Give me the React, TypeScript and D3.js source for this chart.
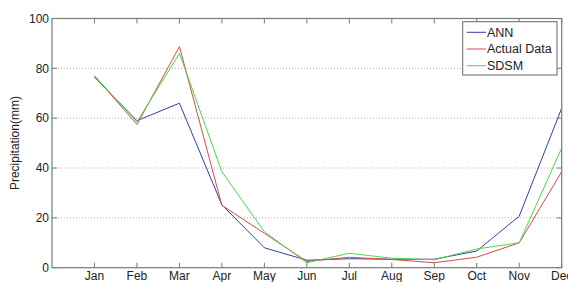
import React from "react";
import * as d3 from "d3";

const months = ["Jan", "Feb", "Mar", "Apr", "May", "Jun", "Jul", "Aug", "Sep", "Oct", "Nov", "Dec"];
const ann = [76.5, 59, 66, 25.2, 8, 3, 3.6, 3.4, 3.4, 6.7, 20.7, 64];
const actual = [77, 57.5, 88.7, 25, 13.8, 2.5, 4.2, 3.3, 2, 4.2, 10, 38.5];
const sdsm = [77, 58.5, 86, 38.5, 14.4, 2, 5.8, 3.8, 3.2, 7.5, 10, 48];
const yTicks = [0, 20, 40, 60, 80, 100];
const seriesNames = ["ANN", "Actual Data", "SDSM"];
const seriesColors = ["#3b3ba8", "#d84a4a", "#4ad84a"];

const W = 568, H = 282;
const left = 52, right = 561.7, top = 18.5, bottom = 267.7;

export default function App() {
  const x = d3.scaleLinear().domain([0, 12]).range([left, right]);
  const y = d3.scaleLinear().domain([0, 100]).range([bottom, top]);
  const line = d3.line<number>().x((_, i) => x(i + 1)).y((d) => y(d));
  const data = [ann, actual, sdsm];
  const font = "Liberation Sans, Arial, sans-serif";
  const axisColor = "#7a7a7a";
  return (
    <svg width={W} height={H} style={{ position: "absolute", left: 0, top: 0, background: "#fff" }}>
      <rect x={0} y={0} width={W} height={H} fill="#fff" />
      {/* grid */}
      {yTicks.filter((t) => t > 0 && t < 100).map((t) => (
        <line key={"g" + t} x1={left} x2={right} y1={y(t)} y2={y(t)} stroke="#999" strokeWidth={0.8} strokeDasharray="1,2" />
      ))}
      {/* lines */}
      {data.map((d, i) => (
        <path key={"s" + i} d={line(d) || ""} fill="none" stroke={seriesColors[i]} strokeWidth={1} />
      ))}
      {/* axes box */}
      <rect x={left} y={top} width={right - left} height={bottom - top} fill="none" stroke={axisColor} strokeWidth={1.2} />
      {/* x ticks */}
      {months.map((m, i) => (
        <g key={m}>
          <line x1={x(i + 1)} x2={x(i + 1)} y1={bottom} y2={bottom - 5} stroke={axisColor} />
          <line x1={x(i + 1)} x2={x(i + 1)} y1={top} y2={top + 5} stroke={axisColor} />
          <text x={x(i + 1)} y={280} textAnchor="middle" fontFamily={font} fontSize={12} fill="#222">{m}</text>
        </g>
      ))}
      {/* y ticks */}
      {yTicks.map((t) => (
        <g key={"y" + t}>
          <line x1={left} x2={left + 5} y1={y(t)} y2={y(t)} stroke={axisColor} />
          <line x1={right} x2={right - 5} y1={y(t)} y2={y(t)} stroke={axisColor} />
          <text x={49} y={y(t) + 4.3} textAnchor="end" fontFamily={font} fontSize={12} fill="#222">{t}</text>
        </g>
      ))}
      <text transform={`translate(19,${(top + bottom) / 2}) rotate(-90)`} textAnchor="middle" fontFamily={font} fontSize={12} fill="#222">Precipitation(mm)</text>
      {/* legend */}
      <rect x={462.7} y={21.7} width={94.3} height={53.3} fill="#fff" stroke="#666" strokeWidth={1} />
      {seriesNames.map((n, i) => (
        <g key={n}>
          <line x1={466.7} x2={486} y1={32.3 + i * 16.7} y2={32.3 + i * 16.7} stroke={seriesColors[i]} strokeWidth={1} />
          <text x={487} y={32.3 + i * 16.7 + 4.3} fontFamily={font} fontSize={12.5} fill="#222">{n}</text>
        </g>
      ))}
    </svg>
  );
}
